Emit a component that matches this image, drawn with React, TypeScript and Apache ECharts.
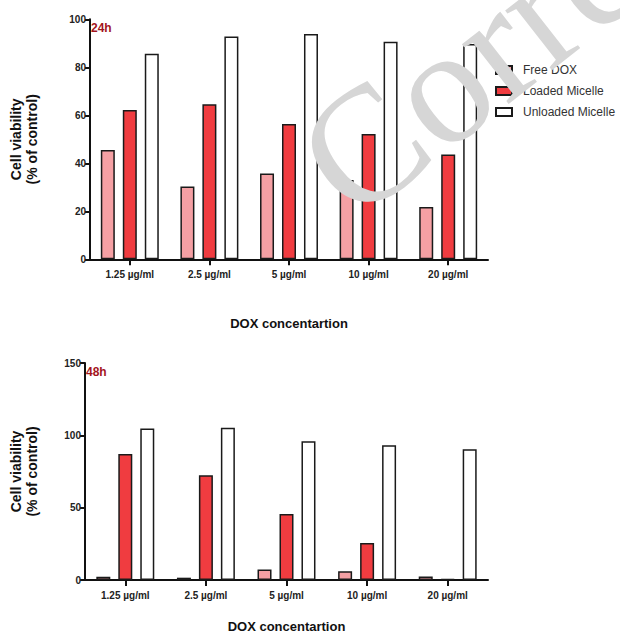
import React, { useEffect, useRef } from "react";
import * as echarts from "echarts";

const categories = ["1.25 µg/ml", "2.5 µg/ml", "5 µg/ml", "10 µg/ml", "20 µg/ml"];
const seriesNames = ["Free DOX", "Loaded Micelle", "Unloaded Micelle"];

const free24 = [45.5, 30.3, 35.8, 33, 21.8];
const loaded24 = [62.2, 64.6, 56.4, 52.2, 43.7];
const unloaded24 = [85.6, 92.8, 93.9, 90.6, 89.7];

const free48 = [2.3, 1.6, 7.2, 6.1, 2.5];
const loaded48 = [87.1, 72.4, 45.6, 25.6, 0.6];
const unloaded48 = [104.7, 105.3, 95.9, 93.2, 90.3];

const colors = ["#f5a0a4", "#f03c40", "#ffffff"];
const FONT = '"Liberation Sans", Arial, Helvetica, sans-serif';

export default function App() {
  const ref = useRef<HTMLDivElement>(null);
  useEffect(() => {
    document.body.style.margin = "0";
    const chart = echarts.init(ref.current!, null, { renderer: "svg" });
    const axisLine = { show: true, lineStyle: { color: "#111", width: 2 } };
    const mkX = (gridIndex: number, nameGap: number) => ({
      type: "category" as const,
      gridIndex,
      data: categories,
      name: "DOX concentartion",
      nameLocation: "middle" as const,
      nameGap,
      nameTextStyle: { fontFamily: FONT, fontWeight: "bold", fontSize: 13, color: "#111" },
      axisLine,
      axisTick: { show: true, alignWithLabel: true, length: 6, lineStyle: { color: "#111", width: 2 }, interval: 0 },
      axisLabel: { fontFamily: FONT, fontWeight: "bold", fontSize: 10, color: "#222", margin: 10, interval: 0 },
      splitLine: { show: false },
    });
    const mkY = (gridIndex: number, max: number, interval: number, nameGap: number) => ({
      type: "value" as const,
      gridIndex,
      min: 0,
      max,
      interval,
      name: "Cell viability\n(% of control)",
      nameLocation: "middle" as const,
      nameGap,
      nameRotate: 90,
      nameTextStyle: { fontFamily: FONT, fontWeight: "bold", fontSize: 14, color: "#111", lineHeight: 16 },
      axisLine,
      axisTick: { show: true, length: 5, lineStyle: { color: "#111", width: 2 } },
      axisLabel: { fontFamily: FONT, fontWeight: "bold", fontSize: 10, color: "#222", margin: 4 },
      splitLine: { show: false },
    });
    const datasets = [
      [free24, loaded24, unloaded24],
      [free48, loaded48, unloaded48],
    ];
    const series: any[] = [];
    datasets.forEach((set, g) => {
      set.forEach((vals, i) => {
        series.push({
          type: "bar",
          name: seriesNames[i],
          xAxisIndex: g,
          yAxisIndex: g,
          data: vals,
          barWidth: 14,
          barGap: "57%",
          itemStyle: { color: colors[i], borderColor: "#1a1a1a", borderWidth: 1.5 },
        });
      });
    });
    chart.setOption({
      animation: false,
      backgroundColor: "#ffffff",
      title: [
        { text: "24h", left: 91, top: 22, textStyle: { fontFamily: FONT, fontWeight: "bold", fontSize: 12, color: "#a3141c" }, padding: 0 },
        { text: "48h", left: 86, top: 366, textStyle: { fontFamily: FONT, fontWeight: "bold", fontSize: 12, color: "#a3141c" }, padding: 0 },
      ],
      legend: {
        data: seriesNames,
        orient: "vertical",
        left: 495,
        top: 63,
        itemWidth: 16,
        itemHeight: 8,
        itemGap: 7,
        padding: 0,
        icon: "rect",
        selectedMode: false,
        textStyle: { fontFamily: FONT, fontSize: 12, color: "#333", padding: [0, 0, 0, 6], lineHeight: 14 },
      },
      grid: [
        { left: 85, top: 19.3, width: 403, height: 240, containLabel: false },
        { left: 80, top: 363, width: 408, height: 220, containLabel: false },
      ],
      xAxis: [mkX(0, 58), mkX(1, 40)],
      yAxis: [mkY(0, 100, 20, 50), mkY(1, 150, 50, 45)],
      series,
      graphic: [
        {
          type: "text",
          x: 320,
          y: 181,
          rotation: (38 * Math.PI) / 180,
          z: 100,
          silent: true,
          style: {
            text: "Corre",
            fontSize: 165,
            fontFamily: '"Liberation Serif", "DejaVu Serif", serif',
            fill: "#d6d6d6",
            align: "left",
            verticalAlign: "middle",
          },
        },
      ],
    });
    return () => chart.dispose();
  }, []);
  return <div ref={ref} style={{ width: 620, height: 634 }} />;
}
